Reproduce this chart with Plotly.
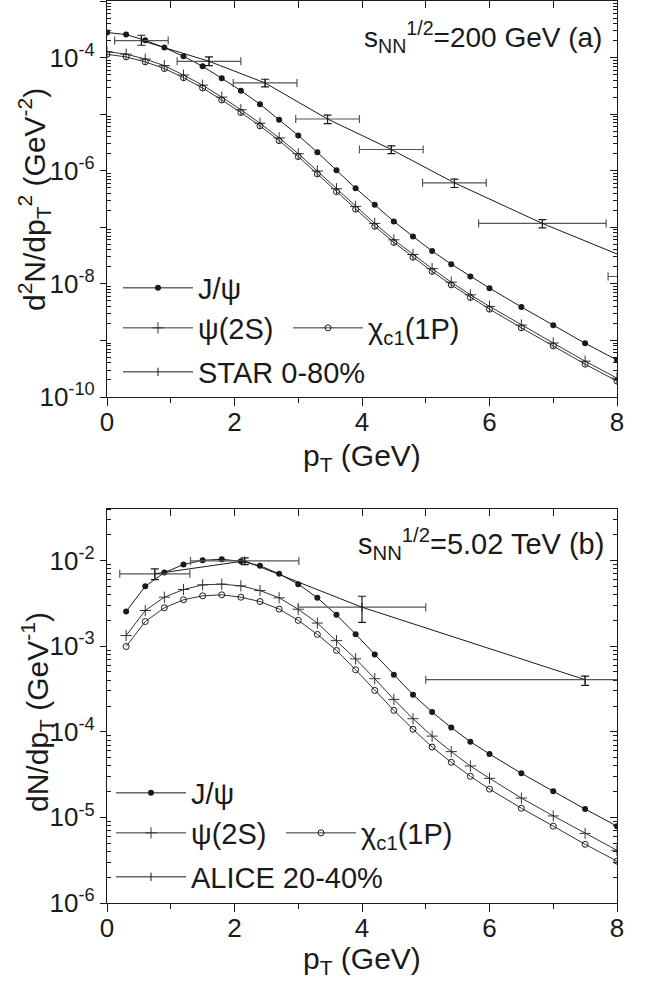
import plotly.graph_objects as go

W, H = 648, 985

# ---------------- panel (a): sNN^1/2 = 200 GeV ----------------
pt_a = [0.0, 0.3, 0.6, 0.9, 1.2, 1.5, 1.8, 2.1, 2.4, 2.7, 3.0, 3.3, 3.6, 3.9,
        4.2, 4.5, 4.8, 5.1, 5.4, 5.7, 6.0, 6.5, 7.0, 7.5, 8.0]
jpsi_a = [2.77e-4, 2.55e-4, 2.02e-4, 1.50e-4, 1.05e-4, 7.0e-5, 4.3e-5, 2.6e-5,
          1.50e-5, 8.0e-6, 4.2e-6, 2.12e-6, 1.02e-6, 4.9e-7, 2.49e-7, 1.27e-7,
          6.9e-8, 3.8e-8, 2.23e-8, 1.35e-8, 8.4e-9, 3.9e-9, 1.86e-9, 8.9e-10, 4.5e-10]
psi2s_a = [1.27e-4, 1.15e-4, 9.4e-5, 7.2e-5, 4.9e-5, 3.25e-5, 2.0e-5, 1.2e-5,
           6.9e-6, 3.8e-6, 2.0e-6, 9.9e-7, 4.8e-7, 2.34e-7, 1.17e-7, 6.0e-8,
           3.3e-8, 1.86e-8, 1.07e-8, 6.4e-9, 4.0e-9, 1.87e-9, 9.0e-10, 4.3e-10, 2.15e-10]
chi_a = [1.14e-4, 1.03e-4, 8.4e-5, 6.4e-5, 4.4e-5, 2.9e-5, 1.78e-5, 1.07e-5,
         6.2e-6, 3.4e-6, 1.78e-6, 8.8e-7, 4.26e-7, 2.09e-7, 1.04e-7, 5.4e-8,
         2.96e-8, 1.66e-8, 9.6e-9, 5.75e-9, 3.57e-9, 1.67e-9, 8.0e-10, 3.8e-10, 1.91e-10]

star_pt = [0.54, 1.60, 2.48, 3.46, 4.46, 5.45, 6.83, 8.86]
star_xerr = [0.42, 0.50, 0.50, 0.50, 0.50, 0.50, 1.00, 1.00]
star_y = [2.0e-4, 8.6e-5, 3.56e-5, 8.2e-6, 2.37e-6, 6.1e-7, 1.17e-7, 1.35e-8]
star_yerr_up = [4.8e-5, 1.7e-5, 5.8e-6, 1.4e-6, 3.7e-7, 1.0e-7, 2.0e-8, 2.0e-9]
star_yerr_dn = [3.5e-5, 1.4e-5, 5.3e-6, 1.4e-6, 3.6e-7, 1.05e-7, 1.9e-8, 2.0e-9]

# ---------------- panel (b): sNN^1/2 = 5.02 TeV ----------------
pt_b = [0.3, 0.6, 0.9, 1.2, 1.5, 1.8, 2.1, 2.4, 2.7, 3.0, 3.3, 3.6, 3.9,
        4.2, 4.5, 4.8, 5.1, 5.4, 5.7, 6.0, 6.5, 7.0, 7.5, 8.0]
jpsi_b = [2.54e-3, 5.0e-3, 7.24e-3, 8.98e-3, 1.007e-2, 1.035e-2, 9.8e-3, 8.7e-3,
          7.0e-3, 5.3e-3, 3.67e-3, 2.32e-3, 1.38e-3, 8.0e-4, 4.63e-4, 2.71e-4,
          1.70e-4, 1.12e-4, 7.66e-5, 5.5e-5, 3.27e-5, 2.02e-5, 1.25e-5, 7.9e-6]
psi2s_b = [1.33e-3, 2.61e-3, 3.73e-3, 4.59e-3, 5.2e-3, 5.3e-3, 5.06e-3, 4.46e-3,
           3.67e-3, 2.70e-3, 1.86e-3, 1.16e-3, 7.1e-4, 4.17e-4, 2.39e-4, 1.42e-4,
           8.9e-5, 5.86e-5, 3.98e-5, 2.86e-5, 1.68e-5, 1.04e-5, 6.5e-6, 4.13e-6]
chi_b = [9.9e-4, 1.94e-3, 2.81e-3, 3.48e-3, 3.87e-3, 3.98e-3, 3.73e-3, 3.32e-3,
         2.71e-3, 2.0e-3, 1.37e-3, 8.9e-4, 5.3e-4, 3.04e-4, 1.78e-4, 1.07e-4,
         6.64e-5, 4.40e-5, 3.02e-5, 2.14e-5, 1.28e-5, 7.9e-6, 4.85e-6, 3.08e-6]

alice_pt = [0.75, 2.16, 4.0, 7.5]
alice_xerr = [0.55, 0.85, 1.0, 2.5]
alice_y = [7.0e-3, 9.9e-3, 2.85e-3, 4.06e-4]
alice_yerr_up = [1.0e-3, 8.6e-4, 9.8e-4, 4.1e-5]
alice_yerr_dn = [1.0e-3, 9.2e-4, 9.5e-4, 5.8e-5]

# tick labels
xticks = [0, 2, 4, 6, 8]
xminor = [1, 3, 5, 7]
ydec_a = [-10, -9, -8, -7, -6, -5, -4, -3]
ylab_a = [-10, -8, -6, -4]
ydec_b = [-6, -5, -4, -3, -2]
ylab_b = [-6, -5, -4, -3, -2]

FONT = "Liberation Sans, Arial, sans-serif"
INK = "#1a1a1a"


def fx(px):
    return px / W


def fy(py):
    return 1 - py / H


def dec_ticks(decs, labelled):
    vals = [10.0 ** d for d in decs]
    text = [("10<sup>-%d</sup>" % (-d)) if d in labelled else " " for d in decs]
    return vals, text


def minor_vals(decs, top):
    out = []
    for d in decs:
        for m in range(2, 10):
            v = m * 10.0 ** d
            if v <= top * 1.0001:
                out.append(v)
    return out


fig = go.Figure()

common_line = dict(color=INK, width=1)


def add_panel(xa, ya, pt, jp, ps, ch, dpt, dxe, dy, dyu, dyd, dname, legs):
    fig.add_trace(go.Scatter(x=pt, y=jp, mode="lines+markers", name="J/ψ",
                             line=common_line, xaxis=xa, yaxis=ya,
                             marker=dict(symbol="circle", size=6, color=INK),
                             legend=legs[0]))
    fig.add_trace(go.Scatter(x=pt, y=ps, mode="lines+markers", name="ψ(2S)",
                             line=dict(color="#333333", width=1), xaxis=xa, yaxis=ya,
                             marker=dict(symbol="cross-thin-open", size=8,
                                         line=dict(color=INK, width=1)),
                             legend=legs[1]))
    fig.add_trace(go.Scatter(x=pt, y=ch, mode="lines+markers", name="χ<sub>c1</sub>(1P)",
                             line=dict(color="#333333", width=1), xaxis=xa, yaxis=ya,
                             marker=dict(symbol="circle-open", size=6, color=INK,
                                         line=dict(color=INK, width=1)),
                             legend=legs[1]))
    fig.add_trace(go.Scatter(x=dpt, y=dy, mode="lines+markers", name=dname,
                             line=common_line, xaxis=xa, yaxis=ya,
                             marker=dict(symbol="line-ns-open", size=6,
                                         line=dict(color=INK, width=1)),
                             error_x=dict(type="data", array=dxe, symmetric=True,
                                          color="#555555", thickness=1.2, width=4),
                             error_y=dict(type="data", array=dyu, arrayminus=dyd,
                                          symmetric=False, color=INK, thickness=1.2, width=4),
                             legend=legs[2]))


add_panel("x", "y", pt_a, jpsi_a, psi2s_a, chi_a, star_pt, star_xerr, star_y,
          star_yerr_up, star_yerr_dn, "STAR 0-80%", ["legend", "legend2", "legend3"])
add_panel("x2", "y2", pt_b, jpsi_b, psi2s_b, chi_b, alice_pt, alice_xerr, alice_y,
          alice_yerr_up, alice_yerr_dn, "ALICE 20-40%", ["legend4", "legend5", "legend6"])

xdom = [fx(107), fx(617)]
ydom_a = [fy(397), fy(1)]
ydom_b = [fy(903), fy(509)]

tickfont = dict(family=FONT, size=26, color=INK)

ya_vals, ya_text = dec_ticks(ydec_a, ylab_a)
yb_vals, yb_text = dec_ticks(ydec_b, ylab_b)
ya_minor = minor_vals(ydec_a[:-1], 1e-3)
yb_minor = minor_vals(ydec_b, 4e-2)
ya_range = [-10, -3]
yb_range = [-6, 0.60206 - 2]


def xaxis_main(anchor):
    return dict(domain=xdom, anchor=anchor, range=[0, 8], showgrid=False, zeroline=False,
                showline=True, linecolor=INK, linewidth=1.3, mirror=False,
                tickmode="array", tickvals=xticks, ticks="outside", ticklen=8,
                tickwidth=1.2, tickcolor=INK, tickfont=tickfont, automargin=False,
                ticklabelstandoff=-6,
                minor=dict(tickmode="array", tickvals=xminor, ticks="outside",
                           ticklen=5, tickwidth=1.2, tickcolor=INK, showgrid=False))


def xaxis_top(anchor, over):
    return dict(domain=xdom, anchor=anchor, overlaying=over, side="top", range=[0, 8],
                showgrid=False, zeroline=False, showline=True, linecolor=INK,
                linewidth=1.3, tickmode="array", tickvals=xticks + xminor,
                ticks="inside", ticklen=7, tickwidth=1.2, tickcolor=INK,
                showticklabels=False, automargin=False)


def yaxis_main(anchor, dom, rng, vals, text, minor):
    return dict(domain=dom, anchor=anchor, type="log", range=rng, showgrid=False,
                zeroline=False, showline=True, linecolor=INK, linewidth=1.3,
                tickmode="array", tickvals=vals, ticktext=text, ticks="outside",
                ticklen=6, tickwidth=1.2, tickcolor=INK, tickfont=tickfont,
                automargin=False,
                minor=dict(tickmode="array", tickvals=minor, ticks="inside",
                           ticklen=4, tickwidth=1, tickcolor=INK, showgrid=False))


def yaxis_right(anchor, over, dom, rng, vals, minor):
    return dict(domain=dom, anchor=anchor, overlaying=over, side="right", type="log",
                range=rng, showgrid=False, zeroline=False, showline=True,
                linecolor=INK, linewidth=1.3, tickmode="array", tickvals=vals,
                ticks="inside", ticklen=7, tickwidth=1.2, tickcolor=INK,
                showticklabels=False, automargin=False,
                minor=dict(tickmode="array", tickvals=minor, ticks="inside",
                           ticklen=4, tickwidth=1, tickcolor=INK, showgrid=False))


# invisible traces to register the mirror axes
for xa, ya in [("x3", "y"), ("x", "y3"), ("x4", "y2"), ("x2", "y4")]:
    fig.add_trace(go.Scatter(x=[None], y=[None], xaxis=xa, yaxis=ya,
                             showlegend=False, hoverinfo="skip"))

legfont = dict(family=FONT, size=29, color=INK)


def leg(xp, yp, horizontal=False):
    d = dict(x=fx(xp), y=fy(yp), xanchor="left", yanchor="middle", xref="paper",
             yref="paper", bgcolor="rgba(0,0,0,0)", borderwidth=0, font=legfont,
             itemwidth=70, tracegroupgap=0, itemclick=False)
    if horizontal:
        d.update(orientation="h", entrywidth=85, entrywidthmode="pixels")
    return d


title_font = dict(family=FONT, size=30, color=INK)

annotations = [
    dict(text="s<sub>NN</sub><sup>1/2</sup>=200 GeV (a)", x=fx(604), y=fy(37),
         xanchor="right", yanchor="middle", showarrow=False,
         font=dict(family=FONT, size=28, color=INK), xref="paper", yref="paper"),
    dict(text="s<sub>NN</sub><sup>1/2</sup>=5.02 TeV (b)", x=fx(606), y=fy(544),
         xanchor="right", yanchor="middle", showarrow=False,
         font=dict(family=FONT, size=29, color=INK), xref="paper", yref="paper"),
    dict(text="p<sub>T</sub> (GeV)", x=fx(362), y=fy(458), xanchor="center",
         yanchor="middle", showarrow=False, font=title_font, xref="paper", yref="paper"),
    dict(text="p<sub>T</sub> (GeV)", x=fx(362), y=fy(960), xanchor="center",
         yanchor="middle", showarrow=False, font=title_font, xref="paper", yref="paper"),
    dict(text="d<sup>2</sup>N/dp<sub>T</sub><sup>2</sup> (GeV<sup>-2</sup>)", x=fx(34),
         y=fy(200), xanchor="center", yanchor="middle", textangle=-90, showarrow=False,
         font=title_font, xref="paper", yref="paper"),
    dict(text="dN/dp<sub>T</sub> (GeV<sup>-1</sup>)", x=fx(37), y=fy(712),
         xanchor="center", yanchor="middle", textangle=-90, showarrow=False,
         font=title_font, xref="paper", yref="paper"),
]

fig.update_layout(
    template="none",
    width=W, height=H,
    margin=dict(l=0, r=0, t=0, b=0),
    paper_bgcolor="white", plot_bgcolor="white",
    font=dict(family=FONT, color=INK),
    xaxis=xaxis_main("y"),
    yaxis=yaxis_main("x", ydom_a, ya_range, ya_vals, ya_text, ya_minor),
    xaxis2=xaxis_main("y2"),
    yaxis2=yaxis_main("x2", ydom_b, yb_range, yb_vals, yb_text, yb_minor),
    xaxis3=xaxis_top("y", "x"),
    yaxis3=yaxis_right("x", "y", ydom_a, ya_range, ya_vals, ya_minor),
    xaxis4=xaxis_top("y2", "x2"),
    yaxis4=yaxis_right("x2", "y2", ydom_b, yb_range, yb_vals, yb_minor),
    legend=leg(118, 288),
    legend2=leg(118, 328, horizontal=True),
    legend3=leg(118, 372),
    legend4=leg(111, 793),
    legend5=leg(111, 833, horizontal=True),
    legend6=leg(111, 877),
    annotations=annotations,
    showlegend=True,
)

fig.write_html("out.html")
